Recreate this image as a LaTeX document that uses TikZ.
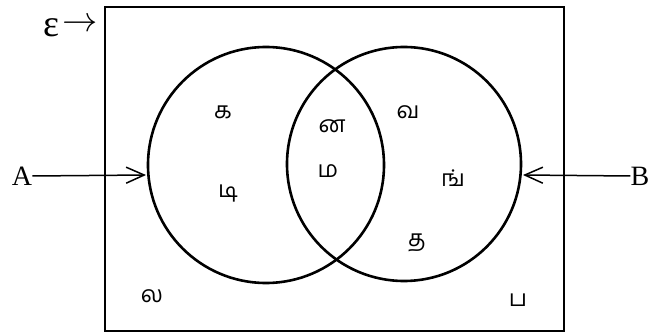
\documentclass[tikz,border=0pt]{standalone}
\usepackage{graphicx}
\usepackage{fontspec}
\setmainfont{Liberation Serif}
\newfontfamily\tamil[Script=Tamil]{Hind Madurai}
\usetikzlibrary{arrows.meta}
\begin{document}
\begin{tikzpicture}[x=1pt,y=-1pt,
  tl/.style={font=\tamil\fontsize{23}{23}\selectfont, inner sep=0pt},
  lbl/.style={font=\fontsize{28}{28}\selectfont, inner sep=0pt},
  setc/.style={draw, circle, line width=2.6pt, inner sep=0pt},
  pointer/.style={line width=1.5pt, -{Straight Barb[length=18pt,width=16pt,line width=1.5pt]}}]
\useasboundingbox (0,0) rectangle (649,334);
\node[draw, line width=2.3pt, minimum width=459pt, minimum height=324pt, inner sep=0pt] (U) at (334.5,169) {};
\node[setc, minimum size=236pt] (L) at (266,165) {};
\node[setc, minimum size=234pt] (R) at (404,164) {};
\node[lbl, font=\fontsize{38}{38}\selectfont] (eps) at (51,28) {ε};
\node[lbl, font=\fontsize{20}{20}\selectfont] (epsarrow) at (80,25) {\scalebox{1.7}{$\rightarrow$}};
\node[lbl] (A) at (22,176) {A};
\node[lbl] (B) at (640,176) {B};
\coordinate (Ae) at (146,175);
\coordinate (Be) at (523,175);
\draw[pointer] (A.east) -- (Ae);
\draw[pointer] (B.west) -- (Be);
\node[tl] (k) at (223,112) {க};
\node[tl] (n) at (332,126) {ன};
\node[tl] (v) at (408,112) {வ};
\node[tl] (m) at (328,171) {ம};
\node[tl] (ng) at (453,178) {ங்};
\node[tl] (di) at (228,194) {டி};
\node[tl] (t) at (417,243) {த};
\node[tl] (l) at (152,296) {ல};
\node[tl] (p) at (518,300) {ப};
\end{tikzpicture}
\end{document}
